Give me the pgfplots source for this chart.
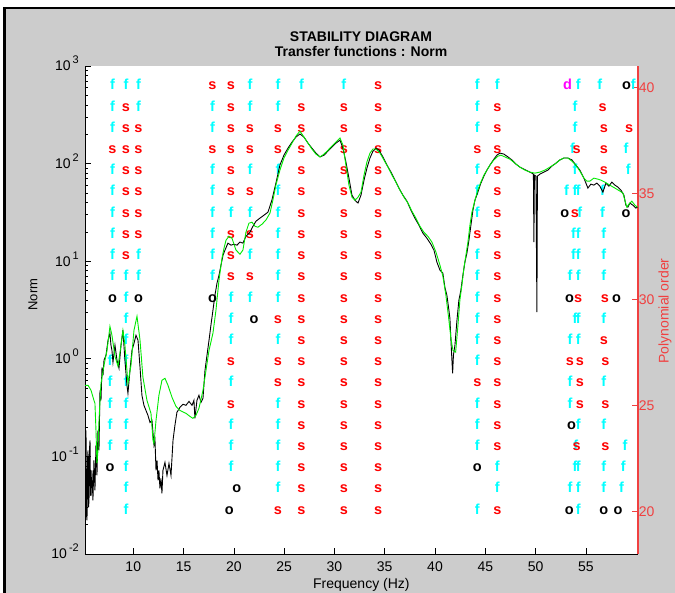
\documentclass[border=0pt]{standalone}
\usepackage{fontspec}
\setmainfont{Liberation Sans}
\usepackage{pgfplots}
\pgfplotsset{compat=1.18}
\definecolor{figgrey}{RGB}{204,204,204}
\definecolor{axred}{RGB}{240,64,64}
\definecolor{sred}{RGB}{255,0,0}
\definecolor{fcyan}{RGB}{0,255,255}
\definecolor{dmag}{RGB}{255,0,255}
\definecolor{cgreen}{RGB}{0,235,0}
\newcommand\lettfont{\fontsize{14.5}{14.5}\selectfont\bfseries}
\newcommand\tickfont{\fontsize{14}{14}\selectfont}
\newcommand\ex[1]{10\hspace{2pt}\raisebox{7pt}{\fontsize{11}{11}\selectfont #1}}
\pgfplotsset{
  lett/.style 2 args={only marks, mark=text, text mark={\textcolor{#1}{#2}},
    text mark as node=true, text mark style={font=\lettfont, anchor=mid, inner sep=0pt}},
}
\begin{document}
\begin{tikzpicture}[x=1pt,y=1pt]
\path[use as bounding box] (0,0) rectangle (675,593);
\fill[white] (0,0) rectangle (675,593);
\fill[figgrey] (4,0) rectangle (675,585);
\draw[black, line width=2.5pt] (4.5,0) -- (4.5,585) -- (675,585);
\fill[white] (85,39) rectangle (637.7,527);
\node[font=\fontsize{14}{14}\selectfont\bfseries] at (361,556) {STABILITY DIAGRAM};
\node[font=\fontsize{14}{14}\selectfont\bfseries] at (361,541) {Transfer functions : Norm};

% ---------- right axis: stability letters ----------
\begin{axis}[
  at={(85pt,39pt)}, anchor=south west, scale only axis,
  width=552.7pt, height=488pt,
  xmin=5.2, xmax=60.15, ymin=18, ymax=41,
  axis x line=none, axis y line=right, axis line style={-},
  y axis line style={draw=axred, line width=1.6pt},
  ytick={20,25,30,35,40}, ytick style={draw=axred, line width=0.8pt},
  tick align=inside, major tick length=6pt,
  /pgf/number format/assume math mode=true,
  yticklabel style={text=axred, font=\tickfont, anchor=west, xshift=1pt, inner sep=0pt},
  ylabel={Polynomial order},
  ylabel style={text=axred, font=\tickfont, at={(axis description cs:1.0494,0.498)}, anchor=center},
  clip=false,
]
\addplot[lett={fcyan}{f}] coordinates {
(7.93,40)(9.27,40)(10.52,40)(21.60,40)(24.38,40)(26.72,40)(30.94,40)(44.21,40)(46.20,40)(54.24,40)(56.39,40)(59.70,40)
(7.93,39)(10.52,39)(17.87,39)(21.60,39)(24.38,39)(44.21,39)(53.91,39)
(7.93,38)(17.87,38)(44.21,38)(53.91,38)
(53.68,37)(58.98,37)
(7.93,36)(17.87,36)(21.60,36)(24.38,36)(44.21,36)(53.91,36)(59.21,36)
(7.93,35)(17.87,35)(24.38,35)(44.21,35)(53.08,35)(53.91,35)(54.24,35)(56.66,35)
(7.93,34)(17.87,34)(19.71,34)(21.60,34)(24.38,34)(44.21,34)(54.40,34)(56.66,34)
(7.93,33)(17.87,33)(24.38,33)(53.76,33)(54.24,33)(56.79,33)
(7.93,32)(10.52,32)(17.87,32)(21.60,32)(24.38,32)(44.21,32)(53.76,32)(54.24,32)(56.79,32)
(7.93,31)(9.27,31)(10.52,31)(17.87,31)(24.38,31)(44.21,31)(53.41,31)(54.24,31)(56.79,31)
(9.27,30)(19.71,30)(21.60,30)(24.38,30)(44.21,30)
(9.27,29)(19.71,29)(44.21,29)(53.91,29)(54.24,29)(56.79,29)
(9.27,28)(19.71,28)(24.38,28)(44.21,28)(53.41,28)(54.24,28)
(7.68,27)(9.27,27)(44.21,27)
(7.68,26)(9.27,26)(19.71,26)(53.41,26)(56.79,26)
(7.68,25)(9.27,25)(24.38,25)(44.21,25)(53.41,25)
(7.68,24)(9.27,24)(19.71,24)(24.38,24)(44.21,24)(54.24,24)(56.79,24)
(7.68,23)(9.27,23)(19.71,23)(24.38,23)(44.21,23)(54.00,23)(58.88,23)
(9.27,22)(19.71,22)(24.38,22)(46.20,22)(53.91,22)(54.24,22)(56.79,22)(58.71,22)
(9.27,21)(24.38,21)(46.20,21)(53.41,21)(54.24,21)(56.79,21)(58.55,21)
(9.27,20)(44.21,20)(54.24,20)
};
\addplot[lett={sred}{s}] coordinates {
(17.87,40)(19.71,40)(34.35,40)
(9.27,39)(19.71,39)(26.72,39)(30.94,39)(34.35,39)(46.20,39)(56.66,39)
(9.27,38)(10.52,38)(19.71,38)(21.60,38)(24.38,38)(26.72,38)(30.94,38)(34.35,38)(46.20,38)(56.79,38)(59.30,38)
(7.93,37)(9.27,37)(10.52,37)(17.87,37)(19.71,37)(21.60,37)(24.38,37)(26.72,37)(30.94,37)(34.35,37)(44.21,37)(46.20,37)(54.08,37)(56.79,37)
(9.27,36)(10.52,36)(19.71,36)(26.72,36)(30.94,36)(34.35,36)(46.20,36)(56.79,36)
(9.27,35)(10.52,35)(19.71,35)(21.60,35)(26.72,35)(30.94,35)(34.35,35)(46.20,35)
(9.27,34)(10.52,34)(26.72,34)(30.94,34)(34.35,34)(46.20,34)(53.91,34)
(9.27,33)(10.52,33)(19.71,33)(21.60,33)(26.72,33)(30.94,33)(34.35,33)(44.21,33)(46.20,33)
(9.27,32)(19.71,32)(26.72,32)(30.94,32)(34.35,32)(46.20,32)
(19.71,31)(21.60,31)(26.72,31)(30.94,31)(34.35,31)(46.20,31)
(26.72,30)(30.94,30)(34.35,30)(46.20,30)(54.24,30)(56.89,30)
(24.38,29)(26.72,29)(30.94,29)(34.35,29)(46.20,29)
(26.72,28)(30.94,28)(34.35,28)(46.20,28)(56.79,28)
(19.71,27)(24.38,27)(26.72,27)(30.94,27)(34.35,27)(46.20,27)(53.41,27)(54.40,27)(56.94,27)
(24.38,26)(26.72,26)(30.94,26)(34.35,26)(44.21,26)(46.20,26)(54.40,26)
(19.71,25)(26.72,25)(30.94,25)(34.35,25)(46.20,25)(54.40,25)(56.94,25)
(26.72,24)(30.94,24)(34.35,24)(46.20,24)
(26.72,23)(30.94,23)(34.35,23)(46.20,23)(54.08,23)(56.94,23)
(26.72,22)(30.94,22)(34.35,22)
(26.72,21)(30.94,21)(34.35,21)
(24.38,20)(26.72,20)(30.94,20)(34.35,20)(46.20,20)
};
\addplot[lett={black}{o}] coordinates {
(59.05,40)(52.91,34)(58.98,34)(7.93,30)(10.52,30)(17.87,30)(53.37,30)(58.05,30)
(22.0,29)(53.58,24)(7.68,22)(44.21,22)(20.28,21)(19.54,20)(53.34,20)(56.79,20)(58.2,20)
};
\addplot[lett={dmag}{d}] coordinates {(53.18,40)};
\end{axis}

% ---------- left axis: transfer function norm ----------
\begin{axis}[
  at={(85pt,39pt)}, anchor=south west, scale only axis,
  width=552.7pt, height=488pt,
  xmin=5.2, xmax=60.15, ymode=log, ymin=1e-2, ymax=1e3,
  axis x line=bottom, axis y line=left, axis line style={-, line width=0.9pt},
  tick align=inside, major tick length=6pt, minor tick length=3pt,
  tick style={black, line width=0.6pt},
  xtick={10,15,...,55},
  ytick={1e-2,1e-1,1,1e1,1e2,1e3},
  yticklabels={\ex{-2},\ex{-1},\ex{0},\ex{1},\ex{2},\ex{3}},
  minor ytick={0.02,0.03,0.04,0.05,0.06,0.07,0.08,0.09,0.2,0.3,0.4,0.5,0.6,0.7,0.8,0.9,2,3,4,5,6,7,8,9,20,30,40,50,60,70,80,90,200,300,400,500,600,700,800,900},
  /pgf/number format/assume math mode=true,
  xticklabel style={font=\tickfont, anchor=center, yshift=-12.7pt},
  yticklabel style={font=\tickfont, anchor=base east, xshift=-6pt, yshift=-5pt, inner sep=0pt},
  xlabel={Frequency (Hz)},
  xlabel style={font=\tickfont, at={(axis description cs:0.5,-0.0635)}, anchor=center},
  ylabel={Norm},
  ylabel style={font=\fontsize{13}{13}\selectfont, at={(axis description cs:-0.0941,0.5316)}, anchor=center},
]
\addplot[black, line width=0.9pt] coordinates {
(5.20,0.0718)(5.25,0.03)(5.30,0.185)(5.35,0.025)(5.40,0.0221)(5.45,0.09)(5.50,0.115)(5.55,0.03)(5.60,0.0354)(5.65,0.12)(5.70,0.146)(5.75,0.04)(5.80,0.0398)(5.89,0.0718)(5.99,0.0354)(6.09,0.091)(6.19,0.0448)(6.29,0.130)(6.39,0.0638)(6.49,0.185)(6.59,0.115)(6.69,0.475)(6.79,0.375)(6.89,0.818)(6.99,0.677)(7.09,0.966)(7.29,1.09)(7.49,1.55)(7.68,1.83)(7.78,1.38)(7.88,1.22)(7.98,0.921)(8.18,1.38)(8.38,0.966)(8.58,0.800)(8.78,1.38)(8.97,1.96)(9.17,0.966)(9.37,0.535)(9.47,0.443)(9.67,0.762)(9.87,1.22)(10.07,1.44)(10.27,1.74)(10.47,1.55)(10.67,0.818)(10.86,0.423)(11.06,0.334)(11.26,0.296)(11.46,0.263)(11.66,0.223)(11.86,0.234)(12.06,0.130)(12.16,0.146)(12.26,0.0718)(12.36,0.091)(12.46,0.0567)(12.55,0.0718)(12.65,0.0470)(12.75,0.0594)(12.85,0.0418)(12.95,0.0718)(13.15,0.0867)(13.35,0.0638)(13.55,0.0847)(13.75,0.0638)(13.95,0.146)(14.14,0.208)(14.34,0.283)(14.64,0.318)(14.94,0.342)(15.24,0.334)(15.54,0.366)(15.84,0.334)(16.03,0.375)(16.13,0.245)(16.33,0.375)(16.53,0.423)(16.73,0.358)(16.93,0.394)(17.13,0.762)(17.33,1.09)(17.53,1.55)(17.72,2.21)(17.92,3.14)(18.12,4.48)(18.32,5.94)(18.52,7.18)(18.72,9.10)(18.92,11.5)(19.12,13.0)(19.41,15.3)(19.71,14.6)(20.01,14.9)(20.31,14.6)(20.61,15.7)(20.90,15.3)(21.20,18.0)(21.60,19.8)(21.90,22.8)(22.20,25.7)(22.59,27.6)(22.99,29.6)(23.39,31.8)(23.78,42.2)(24.18,63.1)(24.58,96.6)(24.98,122)(25.38,144)(25.78,166)(26.17,187)(26.57,201)(26.97,187)(27.37,162)(27.76,144)(28.16,128)(28.56,117)(28.96,122)(29.35,134)(29.75,148)(30.15,162)(30.55,174)(30.84,144)(31.14,104)(31.44,71.0)(31.74,47.5)(32.04,42.2)(32.34,39.4)(32.64,47.5)(32.94,67.7)(33.23,89.9)(33.53,114)(33.83,134)(34.13,144)(34.43,137)(34.82,117)(35.22,96.6)(35.62,81.8)(36.02,67.7)(36.41,56.1)(36.81,47.5)(37.21,41.2)(37.60,33.4)(38.00,27.6)(38.40,23.4)(38.79,19.4)(39.19,17.2)(39.59,14.9)(39.89,13.0)(40.19,9.77)(40.49,8.09)(40.78,7.54)(40.98,5.41)(41.18,4.48)(41.38,3.14)(41.48,2.60)(41.58,1.55)(41.68,0.966)(41.75,0.710)(41.83,1.09)(41.98,1.38)(42.18,2.48)(42.37,3.98)(42.57,5.04)(42.77,7.18)(42.97,9.77)(43.17,12.1)(43.37,16.4)(43.57,23.4)(43.77,33.4)(43.97,42.2)(44.26,51.0)(44.56,63.1)(44.86,74.4)(45.16,85.8)(45.46,96.6)(45.85,111)(46.15,122)(46.45,128)(46.85,125)(47.25,117)(47.64,109)(48.04,98.9)(48.44,92.0)(48.84,87.8)(49.23,83.8)(49.63,79.9)(49.78,78.0)(49.83,15.7)(49.88,76.2)(50.03,74.4)(50.13,3.00)(50.18,74.4)(50.43,78.0)(50.83,81.8)(51.22,85.8)(51.62,94.3)(52.02,101)(52.41,109)(52.81,114)(53.21,114)(53.61,109)(54.00,96.6)(54.40,85.8)(54.80,71.0)(55.20,56.1)(55.49,61.6)(55.79,60.2)(56.09,63.1)(56.39,58.8)(56.69,51.0)(56.99,63.1)(57.29,58.8)(57.58,64.6)(57.88,60.2)(58.18,57.4)(58.48,53.5)(58.78,47.5)(58.97,37.5)(59.17,35.8)(59.37,39.4)(59.67,37.5)(59.97,35.0)(60.12,35.8)
};
\addplot[cgreen, line width=0.9pt] coordinates {
(5.20,0.535)(5.50,0.535)(5.80,0.475)(6.09,0.375)(6.19,0.350)(6.29,0.185)(6.39,0.0847)(6.49,0.115)(6.59,0.234)(6.79,0.561)(7.09,0.857)(7.39,1.22)(7.68,2.15)(7.88,1.74)(8.18,1.06)(8.48,0.838)(8.78,1.38)(8.97,1.96)(9.17,1.38)(9.47,0.561)(9.77,0.857)(10.07,1.96)(10.37,2.73)(10.67,1.55)(10.96,0.646)(11.36,0.375)(11.76,0.276)(11.96,0.146)(12.06,0.136)(12.26,0.234)(12.55,0.423)(12.85,0.602)(13.15,0.631)(13.45,0.535)(13.85,0.403)(14.24,0.326)(14.64,0.296)(15.24,0.276)(15.64,0.257)(15.93,0.245)(16.23,0.263)(16.53,0.311)(16.93,0.475)(17.23,0.762)(17.53,1.22)(17.92,1.83)(18.22,3.14)(18.52,6.38)(18.82,10.7)(19.02,13.6)(19.22,16.4)(19.51,18.0)(19.81,17.2)(20.21,13.0)(20.61,11.8)(20.90,13.0)(21.20,19.8)(21.50,24.5)(21.80,25.1)(22.10,22.8)(22.39,22.3)(22.79,23.9)(23.19,26.4)(23.59,31.1)(23.88,42.2)(24.18,60.2)(24.58,85.8)(24.98,114)(25.38,137)(25.78,162)(26.17,191)(26.57,215)(26.97,187)(27.37,162)(27.76,141)(28.16,125)(28.56,117)(28.96,125)(29.35,137)(29.75,151)(30.15,166)(30.55,183)(30.84,155)(31.14,96.6)(31.44,60.2)(31.74,45.3)(32.04,42.2)(32.34,45.3)(32.64,51.0)(32.94,76.2)(33.23,104)(33.53,128)(33.83,141)(34.13,141)(34.53,128)(34.92,109)(35.32,92.0)(35.72,76.2)(36.11,64.6)(36.51,53.5)(36.91,45.3)(37.31,39.4)(37.70,32.6)(38.10,27.6)(38.50,22.8)(38.89,19.8)(39.29,18.0)(39.69,15.7)(40.09,12.4)(40.49,9.10)(40.78,7.02)(41.08,4.48)(41.38,2.48)(41.58,1.62)(41.78,1.22)(42.05,1.17)(42.28,2.21)(42.47,3.98)(42.67,5.67)(42.87,8.48)(43.07,11.5)(43.27,15.7)(43.47,23.4)(43.67,31.8)(43.97,42.2)(44.26,53.5)(44.56,64.6)(44.86,76.2)(45.16,85.8)(45.46,96.6)(45.85,109)(46.25,119)(46.55,122)(46.95,117)(47.44,111)(47.94,101)(48.44,92.0)(48.93,85.8)(49.43,81.8)(49.93,79.9)(50.43,81.8)(50.92,85.8)(51.42,92.0)(51.92,98.9)(52.41,109)(52.81,114)(53.21,114)(53.61,106)(54.00,96.6)(54.40,83.8)(54.80,71.0)(55.10,66.2)(55.40,66.2)(55.79,71.0)(56.19,69.3)(56.49,67.7)(56.89,64.6)(57.38,60.2)(57.88,56.1)(58.38,52.3)(58.68,49.8)(58.87,42.2)(59.07,35.8)(59.27,38.4)(59.57,41.2)(59.87,37.5)(60.12,35.8)
};
\end{axis}
\end{tikzpicture}
\end{document}
